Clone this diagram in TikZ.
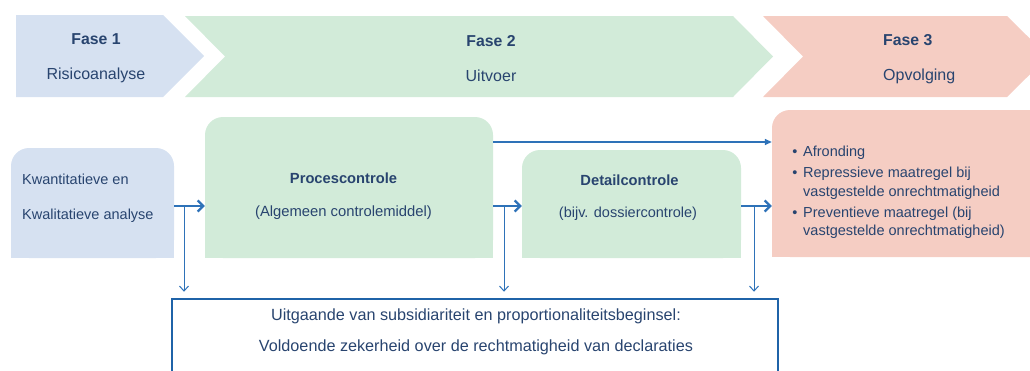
\documentclass[tikz,border=0pt]{standalone}
\usepackage{fontspec}
\setmainfont{Liberation Sans}
\usetikzlibrary{arrows.meta}
\definecolor{fblue}{HTML}{D6E1F1}
\definecolor{fgreen}{HTML}{D2EBD9}
\definecolor{fpink}{HTML}{F5CDC3}
\definecolor{tcol}{HTML}{28446F}
\definecolor{acol}{HTML}{2E72B8}
\definecolor{bcol}{HTML}{1F63A8}
\begin{document}
\begin{tikzpicture}[x=1pt,y=-1pt,
  txt/.style={inner sep=0pt, text=tcol, font=\fontsize{14.5}{17}\selectfont},
  sub/.style={inner sep=0pt, text=tcol, font=\fontsize{16}{19}\selectfont},
  ttl/.style={inner sep=0pt, text=tcol, font=\fontsize{15.8}{18}\selectfont\bfseries},
  hd/.style={inner sep=0pt, text=tcol, font=\fontsize{14.7}{17}\selectfont\bfseries},
  boxshape/.style={inner sep=0pt, rounded corners=18pt},
  thickarr/.style={draw=acol, line width=2.3pt, -{Straight Barb[length=5.5pt,width=11pt]}},
  thinarr/.style={draw=acol, line width=1pt, -{Straight Barb[length=5pt,width=9pt]}},
  toparr/.style={draw=acol, line width=1.5pt, -{Triangle[length=7pt,width=6pt]}}]
\useasboundingbox (0,0) rectangle (1030,370);
\clip (0,0) rectangle (1030,370);

% phase chevrons
\fill[fblue] (16,15) -- (163,15) -- (204,56) -- (163,97) -- (16,97) -- cycle;
\fill[fgreen] (185,16) -- (733,16) -- (773,56.5) -- (733,97) -- (185,97) -- (225,56.5) -- cycle;
\fill[fpink] (763,16) -- (1007,16) -- (1048,56.5) -- (1007,97) -- (763,97) -- (803,56.5) -- cycle;

\node[ttl, anchor=base] (f1t) at (96,44) {Fase 1};
\node[sub, anchor=base] (f1s) at (96,79) {Risicoanalyse};
\node[ttl, anchor=base] (f2t) at (491,46) {Fase 2};
\node[sub, anchor=base] (f2s) at (491,81) {Uitvoer};
\node[ttl, anchor=base west] (f3t) at (883,45) {Fase 3};
\node[sub, anchor=base west] (f3s) at (883,80) {Opvolging};

% boxes
\node[boxshape, fill=fblue, minimum width=163pt, minimum height=110pt] (ana) at (92.5,203) {};
\fill[fblue] (ana.south west) rectangle (ana.east);
\node[boxshape, fill=fgreen, minimum width=288pt, minimum height=141pt] (proc) at (349,187.5) {};
\fill[fgreen] (proc.south west) rectangle (proc.east);
\node[boxshape, fill=fgreen, minimum width=219pt, minimum height=108pt] (det) at (631.5,204) {};
\fill[fgreen] (det.south west) rectangle (det.east);
\node[boxshape, fill=fpink, minimum width=276pt, minimum height=147pt] (opv) at (910,183.5) {};
\fill[fpink] (opv.south west) rectangle (opv.east);
\node[draw=bcol, line width=2.5pt, inner sep=0pt, minimum width=606pt, minimum height=91pt] (base) at (475,344.5) {};

% box texts
\node[txt, anchor=base west] (ana1) at (22,184) {Kwantitatieve en};
\node[txt, anchor=base west] (ana2) at (22,219) {Kwalitatieve analyse};
\node[hd, anchor=base] (proc1) at (343.5,183) {Procescontrole};
\node[txt, font=\fontsize{14.8}{17}\selectfont, anchor=base] (proc2) at (343.5,216) {(Algemeen controlemiddel)};
\node[hd, anchor=base] (det1) at (629.5,185) {Detailcontrole};
\node[txt, anchor=base] (det2) at (628,217) {(bijv. dossiercontrole)};
\node[txt, anchor=base] (b1) at (795,156) {\textbullet};
\node[txt, anchor=base west] (o1) at (803,156) {Afronding};
\node[txt, anchor=base] (b2) at (795,177) {\textbullet};
\node[txt, anchor=base west] (o2) at (803,177) {Repressieve maatregel bij};
\node[txt, anchor=base west] (o3) at (803,196) {vastgestelde onrechtmatigheid};
\node[txt, anchor=base] (b3) at (795,217) {\textbullet};
\node[txt, anchor=base west] (o4) at (803,217) {Preventieve maatregel (bij};
\node[txt, anchor=base west] (o5) at (803,235) {vastgestelde onrechtmatigheid)};
\node[sub, font=\fontsize{16.2}{19}\selectfont, anchor=base] (base1) at (476,320) {Uitgaande van subsidiariteit en proportionaliteitsbeginsel:};
\node[sub, font=\fontsize{16.2}{19}\selectfont, anchor=base] (base2) at (476,351) {Voldoende zekerheid over de rechtmatigheid van declaraties};

% connectors
\coordinate (row) at (0,206);
\coordinate (toprow) at (0,142);
\coordinate (j1) at (184,206);
\coordinate (j2) at (504,206);
\coordinate (j3) at (754,206);
\draw[thickarr] (ana.east |- row) -- (proc.west |- row);
\draw[thickarr] (proc.east |- row) -- (det.west |- row);
\draw[thickarr] (det.east |- row) -- (opv.west |- row);
\draw[toparr] (proc.east |- toprow) -- (opv.west |- toprow);
\draw[thinarr, shorten >=6pt] (j1) -- (j1 |- base.north);
\draw[thinarr, shorten >=6pt] (j2) -- (j2 |- base.north);
\draw[thinarr, shorten >=6pt] (j3) -- (j3 |- base.north);
\end{tikzpicture}
\end{document}
